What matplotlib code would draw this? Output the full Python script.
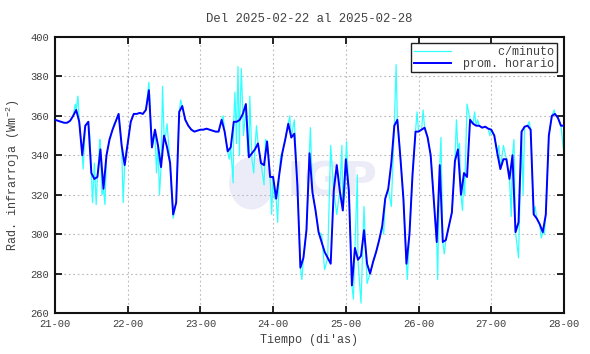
import matplotlib
matplotlib.use("Agg")
import matplotlib.pyplot as plt
import numpy as np
from matplotlib.patches import Ellipse

plt.rcParams['font.family'] = ['Liberation Mono', 'DejaVu Sans Mono']
plt.rcParams['mathtext.default'] = 'regular'

# hourly mean values (W m^-2), days 21..27, 24 values each, plus 28-00
day21 = [358, 357.5, 357, 356.5, 356.5, 357.5, 360, 363, 357, 340, 355, 357,
         331, 328, 329, 343, 323, 340, 348, 353, 357, 361, 345, 335]
day22 = [346, 357, 361, 361, 361.5, 361, 363, 373, 344, 353, 345, 334,
         350, 344, 336, 310, 316, 362, 365, 358, 355, 353, 352, 352.5]
day23 = [353, 353, 353.5, 353, 352.5, 352, 352, 358, 352, 342, 344, 357,
         357, 358, 361, 366, 339, 341, 343, 346, 336, 335, 347, 329]
day24 = [329, 318, 330, 341, 348, 356, 349, 351, 325, 283, 288, 302,
         341, 321, 312, 301, 296, 291, 288, 285, 322, 335, 322, 312]
day25 = [338, 322, 274, 293, 287, 289, 302, 285, 280, 286, 291, 297,
         304, 318, 323, 336, 355, 358, 339, 318, 285, 300, 330, 352]
day26 = [352, 353, 354, 349, 340, 318, 296, 335, 296, 297, 304, 311,
         337, 343, 320, 331, 329, 358, 356, 355, 355, 354, 354.5, 353.5]
day27 = [353, 350, 341, 333, 338, 338, 328, 340, 301, 306, 352, 354.5,
         355, 353, 310, 308, 305, 301, 310, 350, 360, 361, 359, 355]
end_value = [355]

hourly = day21 + day22 + day23 + day24 + day25 + day26 + day27 + end_value
hours = list(range(len(hourly)))

# per-minute excursions (hours since 21-00, value)
spike_t = [6.7, 7.6, 9.3, 11.5, 12.4, 13.0, 13.6, 14.3, 14.8, 15.5, 16.5, 19.5, 22.5, 23.5,
           31.0, 33.5, 34.5, 35.5, 36.5, 37.0, 38.5, 39.0, 41.5,
           55.5, 57.5, 58.8, 59.4, 59.9, 60.4, 60.9, 61.5, 62.2, 62.8, 63.6, 64.3, 65.0, 65.6,
           66.5, 69.0, 69.5, 70.5, 71.5,
           72.5, 73.5, 74.5, 77.5, 79.0, 81.5, 84.3, 88.0, 89.0, 91.0, 93.0, 94.7, 95.7,
           96.2, 97.5, 98.5, 99.8, 101.0, 102.0, 103.0, 105.5, 108.5, 111.0, 112.6, 113.5,
           116.3, 119.5,
           121.5, 124.5, 126.3, 127.4, 128.5, 132.5, 133.5, 134.5, 135.2, 136.0, 138.5, 139.5,
           143.5, 146.5, 148.0, 150.6, 151.5, 153.0, 154.5, 156.5, 158.5, 160.5, 161.5,
           164.8, 167.8]
spike_v = [366, 370, 333, 350, 316, 336, 315, 335, 348, 320, 315, 356, 316, 342,
           377, 331, 320, 375, 350, 356, 320, 308, 368,
           360, 338, 326, 372, 346, 385, 340, 384, 350, 360, 342, 370, 338, 331,
           355, 325, 348, 340, 310,
           318, 306, 340, 360, 358, 277, 354, 300, 282, 345, 310, 345, 322,
           347, 300, 267, 330, 265, 314, 275, 288, 300, 314, 386, 350,
           277, 362,
           363, 330, 277, 349, 290, 358, 346, 312, 320, 366, 362, 358,
           350, 345, 345, 309, 348, 288, 320, 357, 314, 298, 300,
           363, 343]

minute_t = sorted(hours + spike_t)
lookup = dict(zip(hours, hourly))
lookup.update(dict(zip(spike_t, spike_v)))
minute_v = [lookup[t] for t in minute_t]

day_labels = ["21-00", "22-00", "23-00", "24-00", "25-00", "26-00", "27-00", "28-00"]

fig = plt.figure(figsize=(5.9, 3.54), dpi=100)
ax = fig.add_axes([0.0932, 0.1158, 0.8627, 0.7797])

txt = '#404040'

# watermark
ax.add_patch(Ellipse((0.386, 0.47), 0.088, 0.19, transform=ax.transAxes,
                     facecolor='#ececf8', edgecolor='none', zorder=0))
ax.text(0.455, 0.47, "IGP", transform=ax.transAxes, fontsize=34, fontweight='bold',
        family='DejaVu Sans', color='#ececf8', va='center', ha='left', zorder=0)

ax.plot(minute_t, minute_v, color='#33ffff', lw=0.9, label='     c/minuto', zorder=2)
ax.plot(hours, hourly, color='#0000ff', lw=1.4, label='prom. horario', zorder=3)

ax.set_xlim(0, 168)
ax.set_ylim(260, 400)
ax.set_xticks(range(0, 169, 24))
ax.set_xticklabels(day_labels)
ax.set_yticks(range(260, 401, 20))

ax.grid(True, color='#b8b8b8', linestyle=(0, (1.5, 2.5)), lw=0.8)
ax.tick_params(direction='in', length=5, width=1.2, top=True, right=True,
               labelsize=7.6, colors='black', labelcolor=txt, pad=4)
for s in ax.spines.values():
    s.set_linewidth(1.5)
    s.set_color('#111111')

ax.set_title("Del 2025-02-22 al 2025-02-28", fontsize=8.8, color=txt, pad=11)
ax.set_xlabel("Tiempo (di'as)", fontsize=8.5, color=txt, labelpad=4)
ax.set_ylabel("Rad. infrarroja (Wm$^{-2}$)", fontsize=8.5, color=txt, labelpad=6)

leg = ax.legend(loc='upper right', bbox_to_anchor=(0.99, 0.985), fontsize=8.5,
                handlelength=3.2, fancybox=False, framealpha=1, edgecolor='#222222',
                borderpad=0.2, labelspacing=0.0, handletextpad=1.0,
                borderaxespad=0.2)
leg.get_frame().set_linewidth(1.0)
for t in leg.get_texts():
    t.set_color(txt)

fig.savefig("out.png", dpi=100)
